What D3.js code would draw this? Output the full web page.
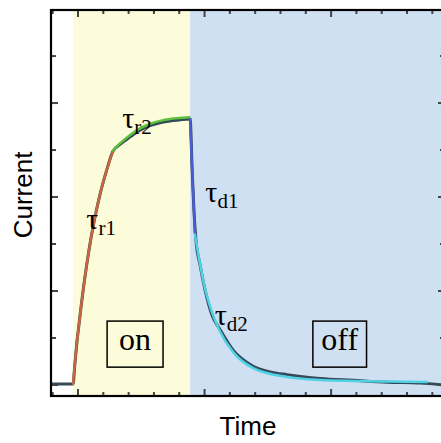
<!DOCTYPE html>
<html>
<head>
<meta charset="utf-8">
<script src="https://cdn.jsdelivr.net/npm/d3@7"></script>
<style>
  html, body { margin: 0; padding: 0; background: #fff; }
  svg { display: block; }
</style>
</head>
<body>
<svg id="chart" width="441" height="443"></svg>
<script>
// Illumination phases (time units)
const phaseNames = ["on", "off"];
const phaseStart = [-0.2, 4.43];
const phaseEnd = [4.43, 14.5];

// Measured photocurrent trace
const measuredTime = [-1.07, -0.198, -0.119, -0.04, 0.04, 0.119, 0.237, 0.356, 0.514, 0.672, 0.87, 1.107, 1.383,
  1.66, 2.06, 2.45, 2.85, 3.24, 3.64, 4.0, 4.39,
  4.43, 4.51, 4.58, 4.66, 4.82, 5.02, 5.30, 5.61, 6.13, 6.92, 7.59, 8.26, 9.57, 10.87, 12.21, 13.52, 14.5];
const measuredCurrent = [0.01, 0.011, 0.238, 0.463, 0.647, 0.829, 1.079, 1.302, 1.564, 1.787, 2.028, 2.262, 2.489,
  2.56, 2.64, 2.71, 2.76, 2.79, 2.81, 2.82, 2.83,
  2.83, 2.29, 1.86, 1.54, 1.28, 1.01, 0.74, 0.59, 0.37, 0.20, 0.14, 0.11, 0.07, 0.05, 0.03, 0.02, 0.0];

// Exponential fit segments
const riseFastTime = [-0.198, -0.119, -0.04, 0.04, 0.119, 0.237, 0.356, 0.514, 0.672, 0.87, 1.107, 1.383];
const riseFastCurrent = [0.011, 0.238, 0.463, 0.647, 0.829, 1.079, 1.302, 1.564, 1.787, 2.028, 2.262, 2.489];
const riseSlowTime = [1.383, 1.66, 2.06, 2.45, 2.85, 3.24, 3.64, 4.0, 4.39];
const riseSlowCurrent = [2.495, 2.57, 2.66, 2.73, 2.78, 2.81, 2.83, 2.84, 2.85];
const decayFastTime = [4.43, 4.51, 4.58, 4.62];
const decayFastCurrent = [2.83, 2.29, 1.86, 1.62];
const decaySlowTime = [4.62, 4.78, 4.98, 5.26, 5.61, 6.13, 6.92, 8.26, 9.57, 10.87, 12.21, 13.79];
const decaySlowCurrent = [1.60, 1.35, 1.07, 0.80, 0.57, 0.35, 0.18, 0.085, 0.053, 0.043, 0.037, 0.032];

// Time-constant labels: main symbol, subscript, anchor time, anchor current
const tauMain = ["τ", "τ", "τ", "τ"];
const tauSub = ["r1", "r2", "d1", "d2"];
const tauTime = [0.33, 1.75, 5.03, 5.4];
const tauCurrent = [1.66, 2.73, 1.95, 0.64];

// Axis ticks
const xMajorTicks = [0, 5, 10];
const xMinorTicks = [-1, 1, 2, 3, 4, 6, 7, 8, 9, 11, 12, 13, 14];
const yMajorTicks = [0, 1, 2, 3];
const yMinorTicks = [0.5, 1.5, 2.5, 3.5];

const svg = d3.select("#chart");
const plotLeft = 51, plotRight = 445, plotTop = 10, plotBottom = 396;

const x = d3.scaleLinear().domain([-1.067, 14.5]).range([plotLeft, plotRight]);
const y = d3.scaleLinear().domain([-0.117, 3.99]).range([plotBottom, plotTop]);

svg.append("defs").append("clipPath").attr("id", "plotClip")
  .append("rect").attr("x", plotLeft).attr("y", plotTop)
  .attr("width", plotRight - plotLeft).attr("height", plotBottom - plotTop);

const plot = svg.append("g").attr("clip-path", "url(#plotClip)");

// Phase backgrounds
const phaseColors = ["#fdfcda", "#cfe0f2"];
plot.selectAll("rect.phase").data(phaseNames).join("rect")
  .attr("class", "phase")
  .attr("x", (d, i) => x(phaseStart[i]))
  .attr("y", plotTop)
  .attr("width", (d, i) => x(phaseEnd[i]) - x(phaseStart[i]))
  .attr("height", plotBottom - plotTop)
  .attr("fill", (d, i) => phaseColors[i]);

const line = d3.line().x(d => x(d[0])).y(d => y(d[1])).curve(d3.curveMonotoneX);
const zip = (a, b) => a.map((v, i) => [v, b[i]]);

// Measured trace
plot.append("path").datum(zip(measuredTime, measuredCurrent))
  .attr("d", line).attr("fill", "none")
  .attr("stroke", "#34495a").attr("stroke-width", 3).attr("stroke-linejoin", "round");

// Fits
const fits = [
  [riseFastTime, riseFastCurrent, "#c8673f"],
  [riseSlowTime, riseSlowCurrent, "#5ec23c"],
  [decayFastTime, decayFastCurrent, "#4a5dd2"],
  [decaySlowTime, decaySlowCurrent, "#4fd2e2"]
];
fits.forEach(([t, c, col]) => {
  plot.append("path").datum(zip(t, c))
    .attr("d", line).attr("fill", "none")
    .attr("stroke", col).attr("stroke-width", 2.5).attr("stroke-linecap", "round");
});

// Ticks (inward on all four sides)
const axes = svg.append("g").attr("stroke", "#444").attr("stroke-width", 2);
const tickX = (vals, len) => {
  vals.forEach(v => {
    axes.append("line").attr("x1", x(v)).attr("x2", x(v)).attr("y1", plotTop).attr("y2", plotTop + len);
    axes.append("line").attr("x1", x(v)).attr("x2", x(v)).attr("y1", plotBottom).attr("y2", plotBottom - len);
  });
};
const tickY = (vals, len) => {
  vals.forEach(v => {
    axes.append("line").attr("y1", y(v)).attr("y2", y(v)).attr("x1", plotLeft).attr("x2", plotLeft + len);
    axes.append("line").attr("y1", y(v)).attr("y2", y(v)).attr("x1", plotRight).attr("x2", plotRight - len);
  });
};
tickX(xMajorTicks, 7);
tickX(xMinorTicks, 4);
tickY(yMajorTicks, 7);
tickY(yMinorTicks, 5);

// Frame
svg.append("rect").attr("x", plotLeft).attr("y", plotTop)
  .attr("width", plotRight - plotLeft).attr("height", plotBottom - plotTop)
  .attr("fill", "none").attr("stroke", "#000").attr("stroke-width", 2.2);

// Phase labels in boxes
const boxTime = [[1.15, 3.36], [9.28, 11.4]];
const boxCurrent = [0.68, 0.19];
phaseNames.forEach((name, i) => {
  const x0 = x(boxTime[i][0]), x1 = x(boxTime[i][1]);
  svg.append("rect").attr("x", x0).attr("y", y(boxCurrent[0]))
    .attr("width", x1 - x0).attr("height", y(boxCurrent[1]) - y(boxCurrent[0]))
    .attr("fill", "none").attr("stroke", "#000").attr("stroke-width", 1.5);
  svg.append("text").attr("x", (x0 + x1) / 2).attr("y", y(0.37))
    .attr("text-anchor", "middle")
    .attr("font-family", "'Liberation Serif', 'Times New Roman', serif")
    .attr("font-size", 32).attr("fill", "#000").text(name);
});

// Time-constant labels
tauSub.forEach((s, i) => {
  const t = svg.append("text")
    .attr("x", x(tauTime[i])).attr("y", y(tauCurrent[i]))
    .attr("font-family", "'Liberation Serif', 'Times New Roman', serif")
    .attr("fill", "#000");
  t.append("tspan").attr("font-size", 30).text(tauMain[i]);
  t.append("tspan").attr("font-size", 21).attr("dy", 6).text(s);
});

// Axis titles
svg.append("text").attr("x", (plotLeft + plotRight) / 2).attr("y", 435)
  .attr("text-anchor", "middle")
  .attr("font-family", "'Liberation Sans', Arial, sans-serif")
  .attr("font-size", 26).attr("fill", "#000").text("Time");
svg.append("text")
  .attr("transform", "translate(32,195) rotate(-90)")
  .attr("text-anchor", "middle")
  .attr("font-family", "'Liberation Sans', Arial, sans-serif")
  .attr("font-size", 26).attr("fill", "#000").text("Current");
</script>
</body>
</html>
